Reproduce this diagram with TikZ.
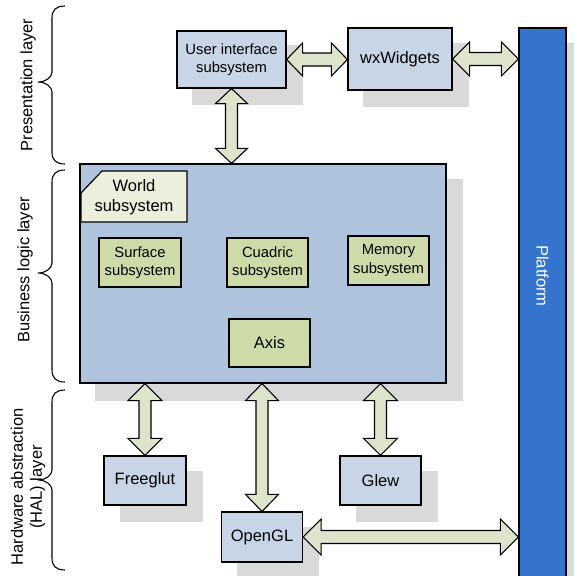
\documentclass[tikz,border=0pt]{standalone}
\usepackage{fontspec}
\setmainfont{Liberation Sans}
\usetikzlibrary{calc}
\definecolor{boxblue}{HTML}{C8D5E6}
\definecolor{bigblue}{HTML}{B0C3DD}
\definecolor{boxgreen}{HTML}{CDDBA9}
\definecolor{worldfill}{HTML}{EBF0DC}
\definecolor{arrowfill}{HTML}{DEE4CC}
\definecolor{platformblue}{HTML}{3574CC}
\definecolor{shadowgray}{HTML}{D9D9D9}
\tikzset{
  box/.style={draw=black, line width=1.2pt, fill=boxblue, inner sep=0pt, align=center,
    font=\fontsize{16.5}{19}\selectfont},
  smallbox/.style={box, font=\fontsize{14.8}{18.3}\selectfont},
  greenbox/.style={box, fill=boxgreen, font=\fontsize{14.8}{18.3}\selectfont},
  shadowfill/.style={fill=shadowgray, draw=none},
  fatarrow/.style={draw=black, line width=1.1pt, fill=arrowfill, line join=miter},
  layerlabel/.style={rotate=90, align=center, font=\fontsize{16.5}{19}\selectfont},
  bracepath/.style={draw=black, line width=1.1pt}
}
% vertical fat double arrow: #1 upper point, #2 lower point, #3 head half width, #4 shaft half width, #5 head length
\newcommand{\vfat}[5]{%
  \filldraw[fatarrow] let \p1=(#1), \p2=(#2) in
   (\x1,\y1) -- (\x1+#3pt,\y1-#5pt) -- (\x1+#4pt,\y1-#5pt) -- (\x1+#4pt,\y2+#5pt)
   -- (\x1+#3pt,\y2+#5pt) -- (\x1,\y2) -- (\x1-#3pt,\y2+#5pt) -- (\x1-#4pt,\y2+#5pt)
   -- (\x1-#4pt,\y1-#5pt) -- (\x1-#3pt,\y1-#5pt) -- cycle;}
% horizontal fat double arrow: #1 left point, #2 right point
\newcommand{\hfat}[5]{%
  \filldraw[fatarrow] let \p1=(#1), \p2=(#2) in
   (\x1,\y1) -- (\x1+#5pt,\y1+#3pt) -- (\x1+#5pt,\y1+#4pt) -- (\x2-#5pt,\y1+#4pt)
   -- (\x2-#5pt,\y1+#3pt) -- (\x2,\y1) -- (\x2-#5pt,\y1-#3pt) -- (\x2-#5pt,\y1-#4pt)
   -- (\x1+#5pt,\y1-#4pt) -- (\x1+#5pt,\y1-#3pt) -- cycle;}
% layer brace: #1 top, #2 tip, #3 bottom (y downward, px)
\newcommand{\layerbrace}[3]{%
  \draw[bracepath] (65,#1) .. controls (56,#1) and (52,#1+4) .. (52,#1+12)
    -- (52,#2-10) .. controls (52,#2-5) and (46,#2) .. (38,#2)
    .. controls (46,#2) and (52,#2+5) .. (52,#2+10)
    -- (52,#3-12) .. controls (52,#3-4) and (56,#3) .. (65,#3);}
\begin{document}
\begin{tikzpicture}[x=1pt,y=-1pt]
\useasboundingbox (0,0) rectangle (574,576);
% shadows
\fill[shadowfill] (192,45) rectangle (303,105);
\fill[shadowfill] (363,43) rectangle (469,107);
\fill[shadowfill] (95,179) rectangle (463,401);
\fill[shadowfill] (120,471) rectangle (203,522);
\fill[shadowfill] (356,471) rectangle (438,522);
\fill[shadowfill] (237,527) rectangle (319,590);
\fill[shadowfill] (566,43) rectangle (574,590);
% presentation layer
\node[smallbox, minimum width=109pt, minimum height=57pt] (ui) at (231.5,59.5) {User interface\\subsystem};
\node[box, minimum width=104pt, minimum height=62pt] (wx) at (400,59) {wxWidgets};
\node[draw=black, line width=1.2pt, fill=platformblue, minimum width=47pt, minimum height=552pt, inner sep=0pt] (platform) at (542.5,304) {};
\node[white, rotate=-90, font=\fontsize{16.5}{19}\selectfont] (platformtext) at (542.5,276) {Platform};
% business logic layer
\node[box, fill=bigblue, minimum width=366pt, minimum height=219pt] (bl) at (263,273.5) {};
\draw[line width=1.2pt, fill=worldfill] (81,193) -- (102,171) -- (187,171) -- (187,222) -- (81,222) -- cycle;
\node[align=center, font=\fontsize{16.5}{20.5}\selectfont] (world) at (134,197) {World\\subsystem};
\node[greenbox, minimum width=82pt, minimum height=49pt] (surface) at (140,262.5) {Surface\\subsystem};
\node[greenbox, minimum width=81pt, minimum height=49pt] (cuadric) at (267.5,262.5) {Cuadric\\subsystem};
\node[greenbox, minimum width=81pt, minimum height=49pt] (memory) at (388.5,260.5) {Memory\\subsystem};
\node[greenbox, font=\fontsize{16.5}{19}\selectfont, minimum width=81pt, minimum height=48pt] (axis) at (269.5,343) {Axis};
% HAL layer
\node[box, minimum width=82pt, minimum height=49pt] (fg) at (145,480.5) {Freeglut};
\node[box, minimum width=81pt, minimum height=49pt] (gw) at (380.5,480.5) {Glew};
\node[box, minimum width=81pt, minimum height=50pt] (gl) at (262,537) {OpenGL};
% connectors
\vfat{ui.south}{ui.south |- bl.north}{16}{6}{15}
\hfat{ui.east}{ui.east -| wx.west}{16.5}{6.5}{16}
\hfat{wx.east}{wx.east -| platform.west}{17}{6.5}{17}
\vfat{bl.south -| fg.north}{fg.north}{17}{6}{17}
\vfat{bl.south -| gl.north}{gl.north}{16.5}{6}{17}
\vfat{bl.south -| gw.north}{gw.north}{17}{6}{17}
\hfat{gl.east}{gl.east -| platform.west}{18}{6.5}{18}
% layer braces and labels
\layerbrace{6}{82}{164}
\layerbrace{170}{273}{382}
\layerbrace{390}{480}{570}
\node[layerlabel] (presentation) at (28,85) {Presentation layer};
\node[layerlabel] (business) at (25,270) {Business logic layer};
\node[layerlabel] (hal) at (28,487) {Hardware abstraction\\(HAL) layer};
\end{tikzpicture}
\end{document}
